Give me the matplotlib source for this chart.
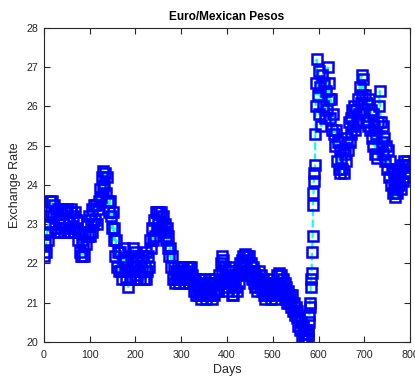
import numpy as np
import matplotlib
matplotlib.use("Agg")
import matplotlib.pyplot as plt

plt.rcParams['font.family'] = ['Liberation Sans', 'DejaVu Sans']

# every 2 days, daily around the jump near day 580
days = list(range(0, 576, 2)) + list(range(576, 596)) + list(range(596, 800, 2))

rate = [
    22.2, 22.5, 22.3, 22.8, 22.6, 23.2, 23.0, 23.6, 23.3, 23.6,
    23.2, 23.5, 22.9, 23.3, 22.8, 23.4, 23.0, 22.8, 23.3, 22.9,
    23.4, 23.0, 22.8, 23.3, 22.9, 23.4, 22.8, 23.1, 22.8, 23.3,
    23.4, 22.9, 23.2, 22.8, 23.3, 22.9, 23.1, 22.6, 22.8, 22.3,
    22.2, 22.6, 22.2, 22.5, 22.2, 22.8, 22.5, 23.0, 22.7, 23.2,
    22.7, 23.1, 22.8, 23.4, 23.0, 23.5, 23.1, 23.5, 23.0, 23.4,
    23.6, 23.9, 23.7, 24.2, 23.9, 24.35, 24.0, 24.3, 23.8, 24.2,
    23.6, 23.3, 23.6, 23.2, 22.9, 23.3, 22.6, 22.9, 22.2, 22.6,
    21.9, 22.3, 21.8, 22.3, 21.8, 21.6, 22.1, 22.4, 21.8, 22.1,
    21.6, 21.9, 21.4, 21.8, 21.6, 22.2, 21.9, 22.4, 21.9, 22.3,
    21.7, 22.1, 21.6, 22.2, 21.8, 21.6, 22.1, 21.8, 22.2, 21.6,
    21.9, 21.6, 22.3, 21.8, 22.2, 21.9, 22.6, 22.4, 22.9, 22.6,
    23.1, 22.7, 23.3, 22.9, 23.3, 23.0, 23.3, 22.9, 23.3, 23.0,
    23.2, 22.8, 23.0, 22.6, 22.9, 22.4, 22.7, 22.2, 22.4, 21.9,
    22.2, 21.6, 21.9, 21.5, 21.8, 21.6, 21.9, 21.5, 21.8, 21.6,
    21.9, 21.6, 21.9, 21.5, 21.8, 21.6, 21.9, 21.7, 21.5, 21.9,
    21.6, 21.9, 21.7, 21.5, 21.3, 21.6, 21.2, 21.5, 21.2, 21.6,
    21.2, 21.4, 21.1, 21.5, 21.2, 21.6, 21.3, 21.1, 21.4, 21.2,
    21.5, 21.2, 21.6, 21.3, 21.1, 21.5, 21.2, 21.6, 21.3, 21.5,
    21.3, 21.7, 21.5, 22.0, 22.2, 21.8, 22.1, 21.6, 21.9, 21.4,
    21.7, 21.3, 21.9, 21.5, 21.8, 21.2, 21.5, 21.2, 21.6, 21.4,
    21.7, 21.3, 21.8, 21.5, 22.0, 21.7, 22.1, 21.8, 22.2, 21.9,
    22.25, 21.9, 22.2, 21.8, 22.2, 21.7, 22.0, 21.6, 21.9, 21.5,
    21.8, 21.4, 21.7, 21.3, 21.6, 21.8, 21.4, 21.7, 21.3, 21.6,
    21.2, 21.5, 21.1, 21.4, 21.2, 21.6, 21.2, 21.4, 21.1, 21.5,
    21.2, 21.4, 21.1, 21.5, 21.3, 21.7, 21.4, 21.75, 21.4, 21.7,
    21.3, 21.6, 21.2, 21.5, 21.1, 21.4, 21.0, 21.3, 21.0, 21.2,
    20.9, 21.2, 20.8, 21.0, 20.7, 20.9, 20.6, 20.8, 20.4, 20.6,
    20.3, 20.5, 20.1, 20.4, 20.05, 20.2, 20.05, 20.3,
    # daily, 576-595
    20.1, 20.3, 20.2, 20.5, 20.7, 20.9, 21.0, 21.4, 21.6, 21.75,
    22.3, 22.7, 23.5, 23.8, 24.1, 24.3, 24.5, 25.3, 26.0, 26.6,
    # 596-798
    27.2, 26.3, 26.9, 25.8, 26.5, 25.5, 26.8, 26.0, 26.6, 25.7,
    26.4, 25.9, 27.0, 26.2, 26.6, 25.7, 26.2, 25.4, 25.8, 25.3,
    25.0, 25.4, 24.6, 25.1, 24.4, 24.9, 24.3, 24.7, 24.4, 24.9,
    24.3, 24.8, 24.6, 25.2, 24.9, 25.6, 25.1, 25.7, 25.3, 25.9,
    25.5, 26.0, 25.4, 25.9, 25.6, 26.2, 25.8, 26.5, 26.1, 26.8,
    26.3, 26.7, 25.9, 26.3, 25.6, 26.1, 25.5, 26.2, 25.4, 25.9,
    25.2, 25.8, 25.0, 25.5, 24.8, 25.3, 24.7, 25.6, 26.0, 26.4,
    25.6, 25.1, 25.5, 24.8, 25.2, 24.6, 25.0, 24.4, 24.9, 24.2,
    24.6, 24.0, 24.4, 23.8, 24.3, 23.9, 23.7, 24.1, 23.8, 24.3,
    24.0, 24.4, 23.9, 24.5, 24.1, 24.6, 24.2, 24.5, 24.3, 24.6,
    24.3, 24.5,
]

axis_col = '#262626'

fig = plt.figure(figsize=(4.15, 3.81), dpi=100)
ax = fig.add_axes([0.106, 0.1024, 0.882, 0.8241])

ax.plot(days, rate, linestyle='--', color='cyan', linewidth=1.5,
        marker='s', markersize=6.5, markerfacecolor='none',
        markeredgecolor='blue', markeredgewidth=1.8)

ax.set_xlim(0, 800)
ax.set_ylim(20, 28)
ax.set_xticks(np.arange(0, 801, 100))
ax.set_yticks(np.arange(20, 29, 1))

ax.tick_params(direction='in', length=4, width=0.8, top=True, right=True,
               labelsize=7.7, colors=axis_col)
ax.tick_params(axis='x', pad=6)
ax.tick_params(axis='y', pad=4)
for s in ax.spines.values():
    s.set_color(axis_col)
    s.set_linewidth(0.8)

ax.set_title('Euro/Mexican Pesos', fontsize=8.6, fontweight='bold', color='black', pad=6)
ax.set_xlabel('Days', fontsize=9, color=axis_col, labelpad=3)
ax.set_ylabel('Exchange Rate', fontsize=9, color=axis_col, labelpad=4)

fig.savefig('out.png', dpi=100)
